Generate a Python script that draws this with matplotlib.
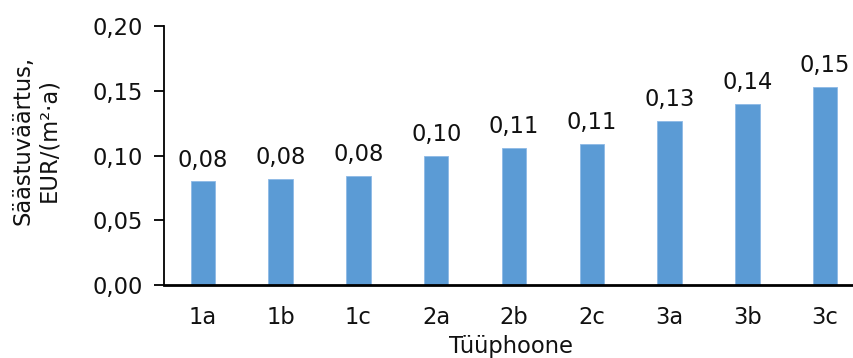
import matplotlib
matplotlib.use("Agg")
import matplotlib.pyplot as plt
import numpy as np

categories = ["1a", "1b", "1c", "2a", "2b", "2c", "3a", "3b", "3c"]
values = [0.080, 0.082, 0.084, 0.0996, 0.106, 0.109, 0.127, 0.140, 0.153]
yticks = [0.00, 0.05, 0.10, 0.15, 0.20]

plt.rcParams['font.family'] = ['DejaVu Sans']
fs = 16.3
tc = '#111111'

fig = plt.figure(figsize=(8.54, 3.58), dpi=100)
# plot area runs past the right edge, as in the reference
ax = fig.add_axes([164 / 854, 73 / 358, 700 / 854, 259 / 358])

x = np.arange(len(categories))
bars = ax.bar(x, values, width=0.315, color='#5B9BD5', edgecolor='#8DB9E6', linewidth=0.6, zorder=2)
ax.bar_label(bars, labels=[f"{v:.2f}".replace('.', ',') for v in values],
             padding=7, fontsize=fs, color=tc)

ax.set_xlim(-0.5, len(categories) - 0.5)
ax.set_ylim(0, 0.20)
ax.set_yticks(yticks)
ax.set_yticklabels([f"{v:.2f}".replace('.', ',') for v in yticks], fontsize=fs, color=tc)
ax.set_xticks(x)
ax.set_xticklabels(categories, fontsize=fs, color=tc)
ax.tick_params(axis='x', length=0, pad=15)
ax.tick_params(axis='y', length=7, width=1.3, pad=8, direction='out')

for s in ['top', 'right']:
    ax.spines[s].set_visible(False)
ax.spines['left'].set_linewidth(1.3)
ax.spines['bottom'].set_linewidth(2)
ax.spines['bottom'].set_zorder(3)

fig.text(511 / 854, 1 - 346 / 358, "Tüüphoone", ha='center', va='center', fontsize=fs, color=tc)
fig.text(36 / 854, 1 - 140 / 358, "Säästuväärtus,\nEUR/(m²·a)", rotation=90, ha='center', va='center',
         multialignment='center', fontsize=fs, color=tc, linespacing=1.15)

fig.savefig("out.png", dpi=100)
